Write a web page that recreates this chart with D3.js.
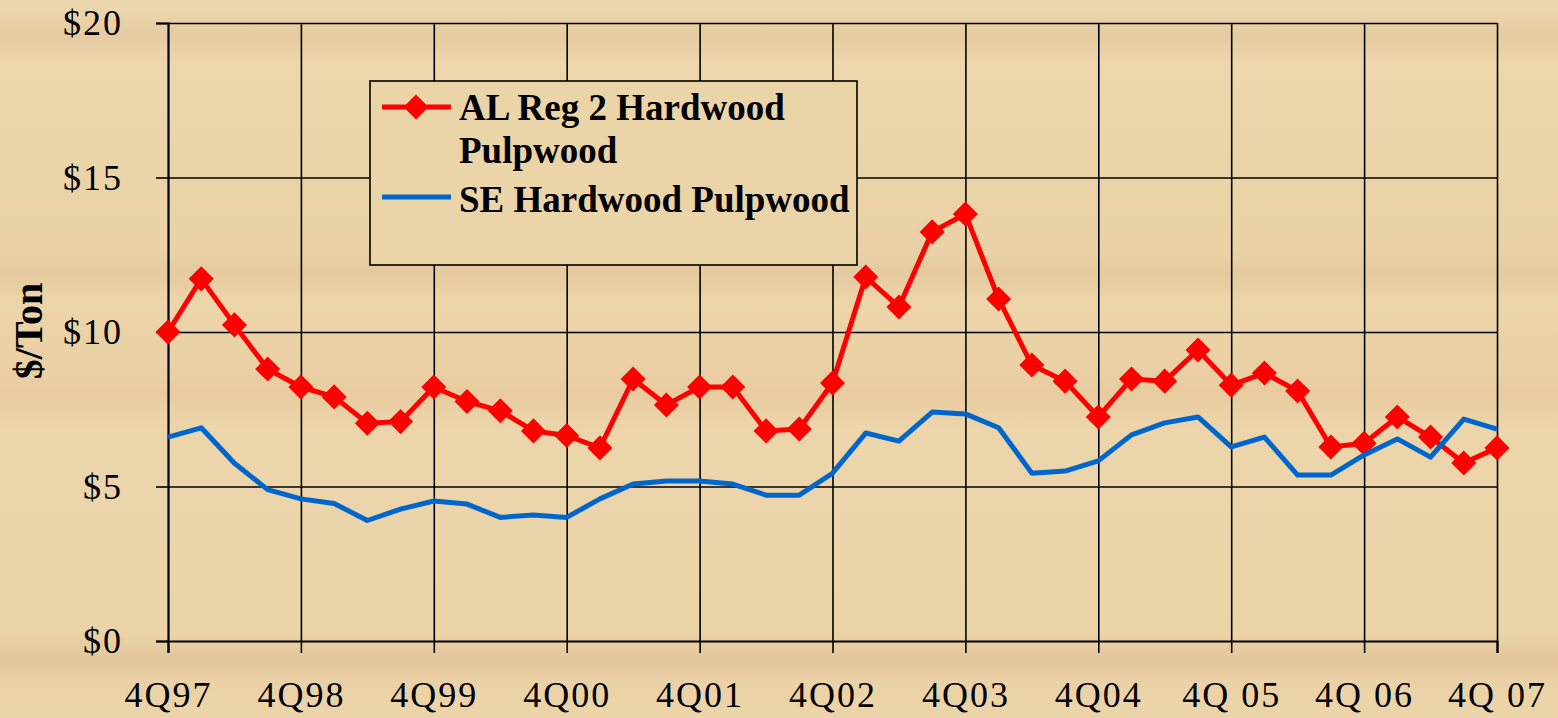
<!DOCTYPE html>
<html>
<head>
<meta charset="utf-8">
<script src="https://cdn.jsdelivr.net/npm/d3@7/dist/d3.min.js"></script>
<style>
  html, body { margin: 0; padding: 0; background: #ecd4a9; }
  svg { display: block; }
  text { font-family: "Liberation Serif", "Times New Roman", serif; fill: #000; }
</style>
</head>
<body>
<div id="chart"></div>
<script>
// quarterly prices, 4Q97 .. 4Q07 (41 quarters)
const tickLabels = ["4Q97", "4Q98", "4Q99", "4Q00", "4Q01", "4Q02", "4Q03", "4Q04", "4Q 05", "4Q 06", "4Q 07"];
const yTicks = [0, 5, 10, 15, 20];

const alReg2 = [10.0, 11.72, 10.23, 8.8, 8.22, 7.9, 7.05, 7.1, 8.22, 7.75, 7.45, 6.8, 6.65, 6.25, 8.48, 7.64,
  8.22, 8.22, 6.8, 6.86, 8.35, 11.78, 10.81, 13.24, 13.82, 11.07, 8.93, 8.41, 7.25, 8.48, 8.41, 9.42,
  8.28, 8.67, 8.09, 6.28, 6.4, 7.25, 6.6, 5.76, 6.25];
const seHardwood = [6.6, 6.9, 5.75, 4.9, 4.6, 4.45, 3.9, 4.27, 4.53, 4.43, 4.0, 4.08, 4.0, 4.6, 5.08, 5.18,
  5.18, 5.08, 4.72, 4.72, 5.43, 6.73, 6.47, 7.41, 7.35, 6.9, 5.43, 5.5, 5.83, 6.67, 7.06, 7.25,
  6.28, 6.6, 5.37, 5.37, 6.02, 6.54, 5.95, 7.18, 6.86];

const seriesNames = ["AL Reg 2 Hardwood", "Pulpwood", "SE Hardwood Pulpwood"];

const W = 1558, H = 718;
const margin = { top: 23, right: 61, bottom: 77, left: 168 };

const svg = d3.select("#chart").append("svg")
  .attr("width", W).attr("height", H);

// wood-ish background bands
const grad = svg.append("defs").append("linearGradient")
  .attr("id", "wood").attr("x1", 0).attr("y1", 0).attr("x2", 0).attr("y2", 1);
[[0, "#efd8b0"], [0.05, "#e6cba1"], [0.09, "#eed6ad"], [0.35, "#ead2a6"], [0.38, "#e5c99f"],
 [0.42, "#edd5aa"], [0.52, "#e9cfa3"], [0.55, "#e8cca0"], [0.6, "#edd5ab"], [0.88, "#ecd4a9"],
 [0.92, "#e3c69b"], [0.95, "#ebd2a6"], [1, "#ecd4a9"]]
  .forEach(s => grad.append("stop").attr("offset", s[0]).attr("stop-color", s[1]));
svg.append("rect").attr("width", W).attr("height", H).attr("fill", "url(#wood)");

const x = d3.scaleLinear().domain([0, alReg2.length - 1]).range([margin.left, W - margin.right]);
const y = d3.scaleLinear().domain([0, 20]).range([H - margin.bottom, margin.top]);
const xTickVals = d3.range(0, alReg2.length, 4);

// grid
svg.append("g")
  .attr("transform", `translate(${margin.left},0)`)
  .call(d3.axisLeft(y).tickValues(yTicks.slice(1)).tickSize(-(W - margin.right - margin.left)).tickFormat(""))
  .call(g => g.select(".domain").remove())
  .selectAll("line").attr("stroke", "#000").attr("stroke-width", 1.6);
svg.append("g")
  .attr("transform", `translate(0,${margin.top})`)
  .call(d3.axisTop(x).tickValues(xTickVals.slice(1)).tickSize(-(H - margin.bottom - margin.top)).tickFormat(""))
  .call(g => g.select(".domain").remove())
  .selectAll("line").attr("stroke", "#000").attr("stroke-width", 1.6);

// axes
const yAxis = svg.append("g")
  .attr("transform", `translate(${margin.left},0)`)
  .call(d3.axisLeft(y).tickValues(yTicks).tickFormat(d => "$" + d).tickSize(12).tickPadding(33));
const xAxis = svg.append("g")
  .attr("transform", `translate(0,${H - margin.bottom})`)
  .call(d3.axisBottom(x).tickValues(xTickVals).tickFormat((d, i) => tickLabels[i]).tickSize(12).tickPadding(28));
[yAxis, xAxis].forEach(a => {
  a.select(".domain").attr("stroke", "#000").attr("stroke-width", 2.2);
  a.selectAll(".tick line").attr("stroke", "#000").attr("stroke-width", 1.6);
  a.selectAll("text").attr("font-family", "Liberation Serif, serif").attr("font-size", 36)
    .style("letter-spacing", "2px").attr("fill", "#000");
});

// y label
svg.append("text")
  .attr("transform", `translate(42,331) rotate(-90)`)
  .attr("text-anchor", "middle")
  .attr("font-size", 40).attr("font-weight", "bold")
  .text("$/Ton");

// lines
const line = d3.line().x((d, i) => x(i)).y(d => y(d));
const diamond = d3.symbol().type(d3.symbolDiamond2).size(400);

svg.append("path").datum(alReg2)
  .attr("fill", "none").attr("stroke", "#ff0000").attr("stroke-width", 5)
  .attr("stroke-linejoin", "round").attr("d", line);
svg.append("g").selectAll("path").data(alReg2).join("path")
  .attr("transform", (d, i) => `translate(${x(i)},${y(d)})`)
  .attr("d", diamond).attr("fill", "#ff0000");
svg.append("path").datum(seHardwood)
  .attr("fill", "none").attr("stroke", "#0066cc").attr("stroke-width", 5)
  .attr("stroke-linejoin", "round").attr("d", line);

// legend
const lg = svg.append("g");
lg.append("rect").attr("x", 370).attr("y", 81).attr("width", 487).attr("height", 184)
  .attr("fill", "#ecd4a9").attr("stroke", "#000").attr("stroke-width", 1.6);
lg.append("line").attr("x1", 382).attr("x2", 451).attr("y1", 107).attr("y2", 107)
  .attr("stroke", "#ff0000").attr("stroke-width", 5);
lg.append("path").attr("transform", "translate(416,107)").attr("d", diamond).attr("fill", "#ff0000");
lg.append("line").attr("x1", 382).attr("x2", 451).attr("y1", 197).attr("y2", 197)
  .attr("stroke", "#0066cc").attr("stroke-width", 5);
lg.selectAll("text.lbl").data(seriesNames).join("text")
  .attr("class", "lbl")
  .attr("x", 459)
  .attr("y", (d, i) => [120, 163, 212][i])
  .attr("font-size", 37).attr("font-weight", "bold")
  .text(d => d);
</script>
</body>
</html>
